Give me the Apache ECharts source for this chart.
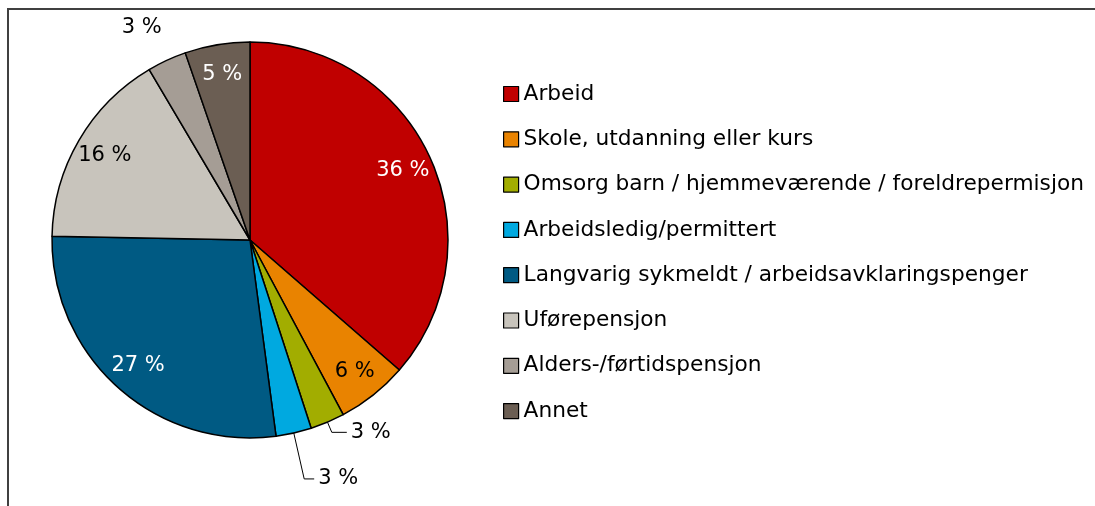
<!DOCTYPE html>
<html lang="no">
<head>
  <meta charset="UTF-8">
  <title>pie</title>
  <script src="https://cdn.jsdelivr.net/npm/echarts@6/dist/echarts.min.js"></script>
  <style>
    html, body { margin: 0; padding: 0; background: #fff; }
  </style>
</head>
<body>
  <div id="main" style="width: 1095px;height: 506px;"></div>
  <script type="text/javascript">
    var categories = ['Arbeid', 'Skole, utdanning eller kurs', 'Omsorg barn / hjemmeværende / foreldrepermisjon',
      'Arbeidsledig/permittert', 'Langvarig sykmeldt / arbeidsavklaringspenger', 'Uførepensjon',
      'Alders-/førtidspensjon', 'Annet']
    var values = [36.4, 5.8, 2.8, 2.9, 27.4, 16.2, 3.2, 5.3]
    var colors = ['#C00000', '#E98300', '#A2AD00', '#00A9E0', '#005A83', '#C8C4BC', '#A59D95', '#6B5E53']
    // which slices carry their label inside, and in which colour
    var insideLabel = [true, true, false, false, true, true, false, true]
    var labelColors = ['#fff', '#000', '#000', '#000', '#fff', '#000', '#000', '#fff']

    var font = '"DejaVu Sans", Arial, sans-serif'
    function pct(p) { return Math.round(p.value) + ' %' }

    var myChart = echarts.init(document.getElementById('main'))

    // outside labels for the small slices: [length, length2, showLine]
    var outside = { 2: [11, 15, true], 3: [47, 10, true], 6: [36, 0, false] }

    var pieData = categories.map(function (name, i) {
      var d = { name: name, value: values[i], itemStyle: { color: colors[i] } }
      if (outside[i]) {
        d.label = { show: true }
        d.labelLine = { show: outside[i][2], length: outside[i][0], length2: outside[i][1] }
      }
      return d
    })

    var ringData = categories.map(function (name, i) {
      return {
        name: name, value: values[i],
        label: { show: insideLabel[i], color: labelColors[i] }
      }
    })

    myChart.setOption({
      backgroundColor: '#fff',
      animation: false,
      graphic: [{
        type: 'rect',
        shape: { x: 8, y: 9, width: 1100, height: 520 },
        style: { fill: 'none', stroke: '#404040', lineWidth: 2 },
        silent: true
      }],
      legend: {
        orient: 'vertical',
        left: 503,
        top: 83,
        padding: 0,
        data: categories,
        itemWidth: 15,
        itemHeight: 15,
        itemGap: 23.3,
        icon: 'rect',
        selectedMode: false,
        itemStyle: { borderColor: '#000', borderWidth: 1.2 },
        textStyle: { fontFamily: font, fontSize: 21.7, color: '#000' }
      },
      series: [{
        type: 'pie',
        center: [250, 240],
        radius: 198,
        startAngle: 90,
        avoidLabelOverlap: false,
        itemStyle: { borderColor: '#000', borderWidth: 1.5 },
        label: { show: false, formatter: pct, fontFamily: font, fontSize: 21, color: '#000', distanceToLabelLine: 4 },
        labelLine: { lineStyle: { color: '#000', width: 1 } },
        labelLayout: function (p) {
          if (p.dataIndex === 6) return { dx: 14 }
        },
        emphasis: { disabled: true },
        data: pieData
      }, {
        // transparent ring used only to place the inside labels further out
        type: 'pie',
        center: [250, 240],
        radius: [132, 198],
        startAngle: 90,
        silent: true,
        avoidLabelOverlap: false,
        itemStyle: { color: 'rgba(0,0,0,0)', borderWidth: 0 },
        label: { position: 'inside', formatter: pct, fontFamily: font, fontSize: 21 },
        labelLine: { show: false },
        emphasis: { disabled: true },
        data: ringData
      }]
    })
  </script>
</body>
</html>
